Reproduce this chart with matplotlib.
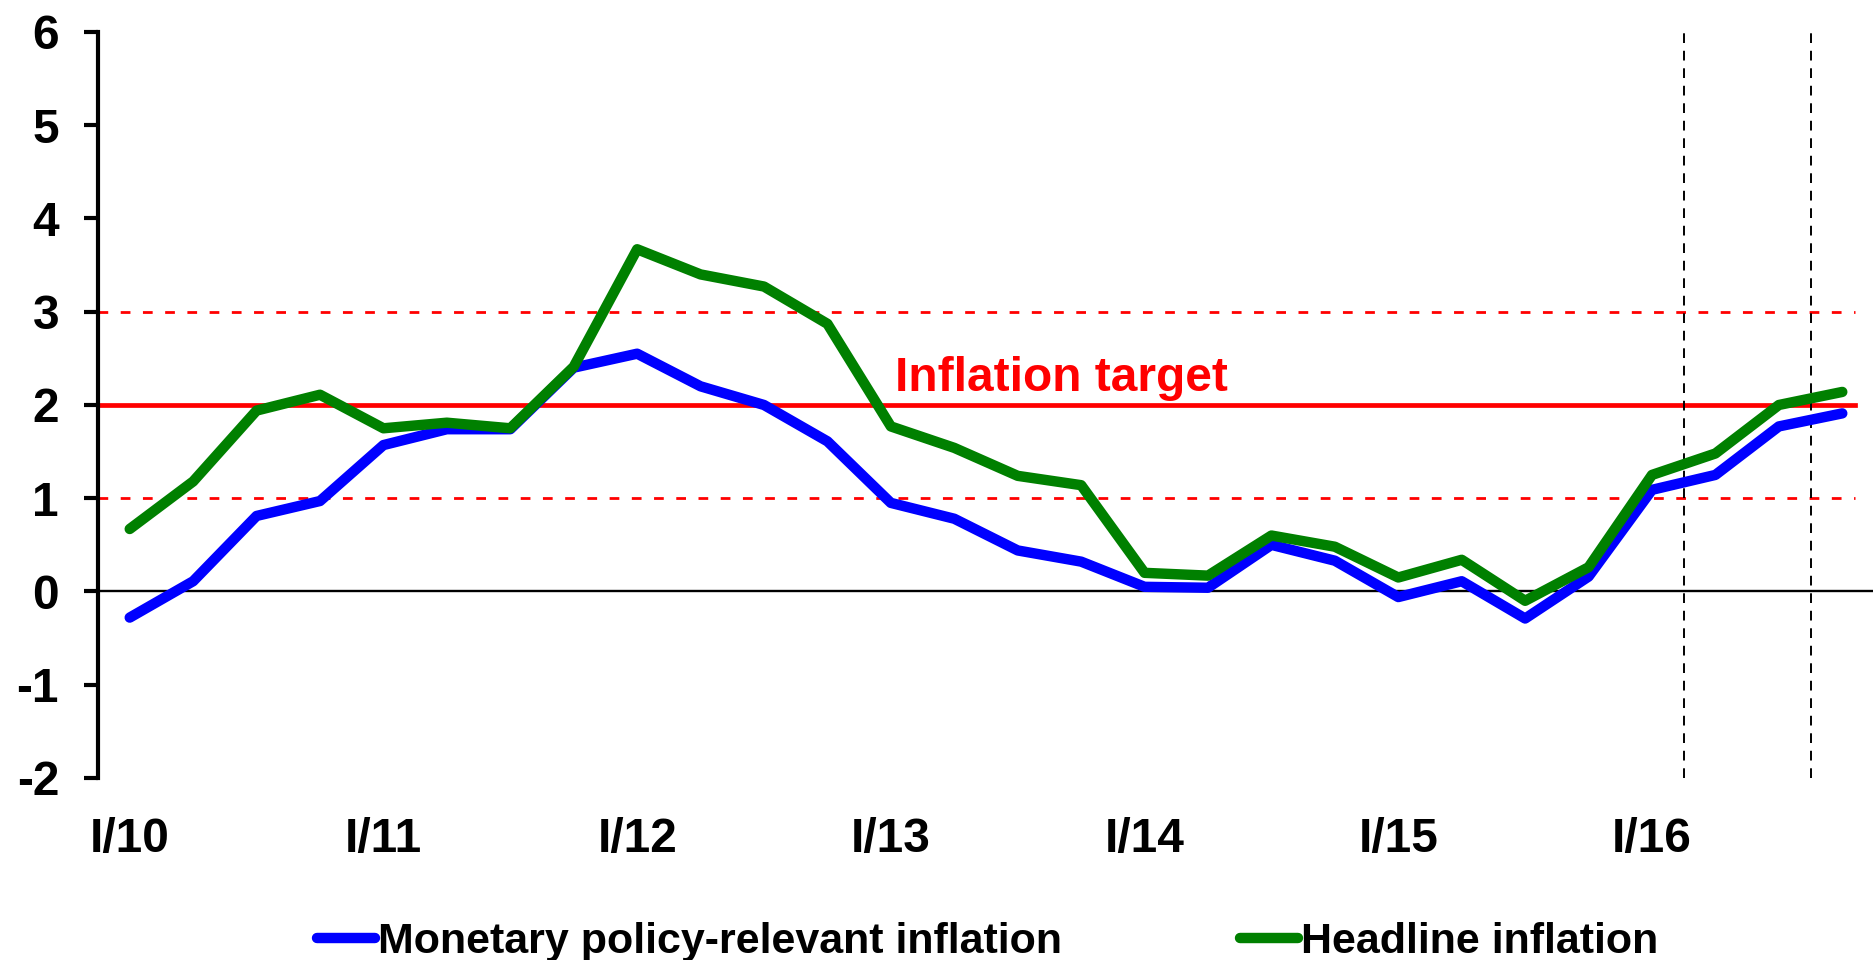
import matplotlib
matplotlib.use("Agg")
import matplotlib.pyplot as plt
import numpy as np

plt.rcParams.update({
    "font.family": ["Liberation Sans", "DejaVu Sans"],
    "font.weight": "bold",
    "axes.unicode_minus": False,
})

# quarterly data, I/10 .. IV/16
policy_relevant = [-0.28, 0.11, 0.81, 0.97, 1.57, 1.74, 1.74, 2.40, 2.55, 2.20,
                   2.00, 1.61, 0.95, 0.78, 0.44, 0.32, 0.05, 0.04, 0.50, 0.33,
                   -0.06, 0.11, -0.29, 0.16, 1.09, 1.25, 1.77, 1.91]
headline = [0.67, 1.18, 1.94, 2.11, 1.75, 1.81, 1.75, 2.41, 3.67, 3.40,
            3.27, 2.87, 1.77, 1.54, 1.24, 1.14, 0.20, 0.17, 0.60, 0.48,
            0.15, 0.34, -0.10, 0.26, 1.25, 1.48, 2.00, 2.14]
year_labels = ["I/10", "I/11", "I/12", "I/13", "I/14", "I/15", "I/16"]
target = 2.0
band = [1.0, 3.0]
forecast_marks = [24.5, 26.5]

x = np.arange(len(headline))

fig = plt.figure(figsize=(18.74, 9.6), dpi=100)
ax = fig.add_axes([0.0523, 0.1896, 0.9477, 0.7771])

ax.axhline(0, color="black", linewidth=1.7, zorder=1)
ax.plot([-0.5, 27.2], [target, target], color="#FF0000", linewidth=3.4, zorder=2)
for b in band:
    ax.plot([-0.5, 27.2], [b, b], color="#FF0000", linewidth=2.0,
            linestyle=(0, (3.5, 4.5)), zorder=2)
for v in forecast_marks:
    ax.plot([v, v], [-2, 6.05], color="black", linewidth=1.4,
            linestyle=(0, (5, 4)), zorder=2, clip_on=False)

ax.plot(x, policy_relevant, color="#0000FF", linewidth=7.5,
        solid_capstyle="round", solid_joinstyle="round", zorder=3,
        label="Monetary policy-relevant inflation")
ax.plot(x, headline, color="#008000", linewidth=7.5,
        solid_capstyle="round", solid_joinstyle="round", zorder=4,
        label="Headline inflation")

ax.text(12.07, 2.15, "Inflation target", color="#FF0000", fontsize=34.5,
        fontweight="bold", va="baseline", ha="left")

ax.set_xlim(-0.5, 27.5)
ax.set_ylim(-2, 6)
ax.set_yticks(range(-2, 7))
ax.set_xticks(range(0, 28, 4))
ax.set_xticklabels(year_labels)

for s in ["top", "right", "bottom"]:
    ax.spines[s].set_visible(False)
ax.spines["left"].set_linewidth(3)
ax.tick_params(axis="y", length=10, width=3, pad=18, labelsize=34.5)
ax.tick_params(axis="x", length=0, pad=28, labelsize=34.5)

fig.legend(loc="lower center", bbox_to_anchor=(0.527, -0.042), ncol=2, frameon=False,
           fontsize=31, handlelength=1.35, handletextpad=0.05, columnspacing=4.15)

fig.savefig("out.png", dpi=100)
